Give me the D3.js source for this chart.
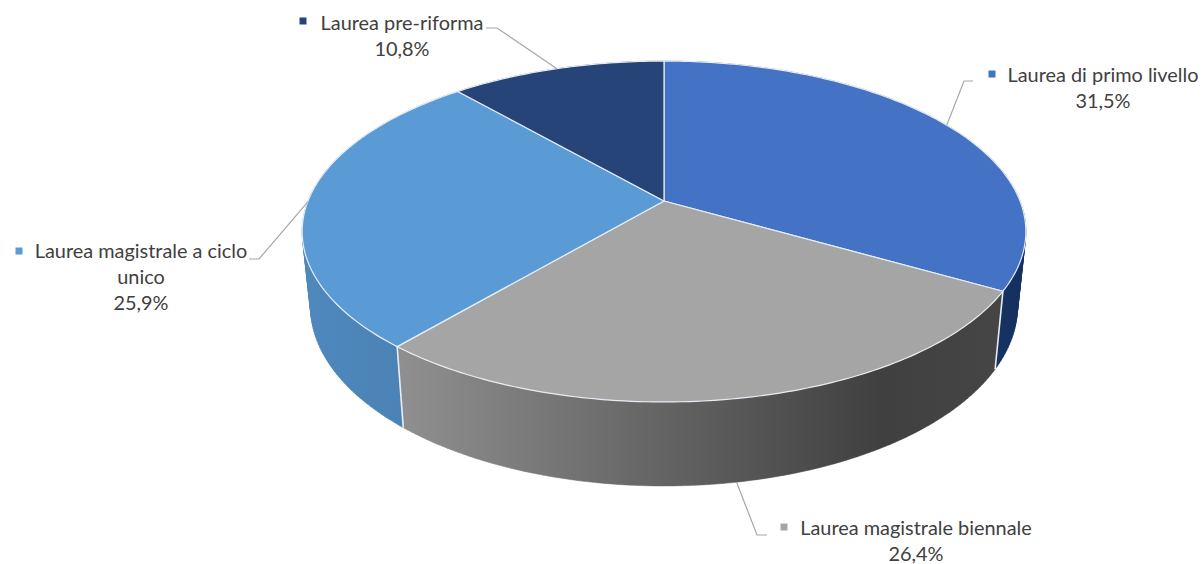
<!DOCTYPE html>
<html><head><meta charset="utf-8">
<script src="https://cdn.jsdelivr.net/npm/d3@7/dist/d3.min.js"></script>
<style>html,body{margin:0;padding:0;background:#fff}svg{display:block}text{font-family:Lato,"Open Sans",sans-serif;font-size:19.9px;fill:#404040}</style>
</head><body><svg id="c" width="1202" height="564"></svg>
<script>
const categories = ["Laurea di primo livello","Laurea magistrale biennale","Laurea magistrale a ciclo unico","Laurea pre-riforma"];
const values = [31.5,26.4,25.9,10.8];
const valueLabels = ["31,5%","26,4%","25,9%","10,8%"];
const topColors = ["#4472c4","#a5a5a5","#5b9bd5","#264478"];

const labelLines = [["Laurea di primo livello","31,5%"],["Laurea magistrale biennale","26,4%"],["Laurea magistrale a ciclo","unico","25,9%"],["Laurea pre-riforma","10,8%"]];
const labelCentres = [[1103,82],[916,535],[141,258],[402,30]];
const markers = [[992,74],[784,527],[19,251],[303,21]];
const leaderElbows = [[[964,81],[973,81]],[[757,535],[767,535]],[[259,259],[249,259]],[[497,28],[486,28]]];
const wallStops = [
  [["#2a4a86",0],["#14305e",1]],
  [["#8f8f8f",0],["#404040",0.8],["#454545",1]],
  [["#4e88bd",0],["#4a80b2",1]],
  [["#1c3560",0],["#1c3560",1]]];

const svg = d3.select("#c");
const pie = d3.pie().sort(null).startAngle(0).endAngle(2*Math.PI);
const arcs = pie(values);

// perspective projection of the pie disc
const cx=664, cy=201, A=356, B=165, persp=-0.179;
function proj(t){const u=Math.sin(t),v=-Math.cos(t),w=1+persp*v;return [cx+A*u/w,cy+B*v/w];}
function low(p){return [cx+(p[0]-cx)*0.977,p[1]+84+(p[1]-402)*0.0536];}
const line=d3.line();
const sample=(a,b)=>{const n=Math.max(2,Math.ceil((b-a)*60));return d3.range(n+1).map(i=>a+(b-a)*i/n);};

const defs=svg.append("defs");
arcs.forEach((d,i)=>{
  const pts=sample(d.startAngle,d.endAngle).map(proj);
  const x=d3.extent(pts,p=>p[0]);
  const g=defs.append("linearGradient").attr("id","w"+i).attr("gradientUnits","userSpaceOnUse")
    .attr("x1",i==1?402:x[0]).attr("x2",i==1?1000:x[1]).attr("y1",0).attr("y2",0);
  wallStops[i].forEach(s=>g.append("stop").attr("offset",s[1]).attr("stop-color",s[0]));
});
// walls: a union of small quads, all wound the same way
[3,2,0,1].forEach(i=>{
  const d=arcs[i];
  const t=sample(d.startAngle,d.endAngle).map(proj);
  const quads=d3.pairs(t).map(([a,b])=>{
    const q=[a,b,low(b),low(a)];
    return line(d3.polygonArea(q)<0?q.reverse():q)+"Z";
  }).join("");
  svg.append("path").attr("d",quads).attr("fill",`url(#w${i})`).attr("stroke",`url(#w${i})`).attr("stroke-width",0.5);
});
// wall separators
arcs.forEach(d=>{
  const p=proj(d.startAngle);
  if(p[1]>232) svg.append("path").attr("d",line([p,low(p)])).attr("stroke","#e8edf3").attr("stroke-width",1.6).attr("fill","none");
});
// top surface
arcs.forEach((d,i)=>{
  const pts=[[cx,cy]].concat(sample(d.startAngle,d.endAngle).map(proj));
  svg.append("path").attr("d",line(pts)+"Z").attr("fill",topColors[i])
    .attr("stroke","#e6edf5").attr("stroke-width",1.2).attr("stroke-linejoin","round");
});
// leaders leave each slice at its middle angle
arcs.forEach((d,i)=>{
  const p=proj((d.startAngle+d.endAngle)/2);
  svg.append("path").attr("d",line([i==1?low(p):p].concat(leaderElbows[i])))
    .attr("fill","none").attr("stroke","#a6a6a6").attr("stroke-width",1.2);
});
// labels
const lh=26;
labelLines.forEach((ls,i)=>{
  const [lx,ly]=labelCentres[i];
  ls.forEach((s,j)=>{
    svg.append("text").attr("x",lx).attr("y",ly+j*lh).attr("text-anchor","middle").text(s);
  });
  svg.append("rect").attr("x",markers[i][0]-3.5).attr("y",markers[i][1]-3.5).attr("width",7).attr("height",7).attr("fill",topColors[i]);
});
</script></body></html>
